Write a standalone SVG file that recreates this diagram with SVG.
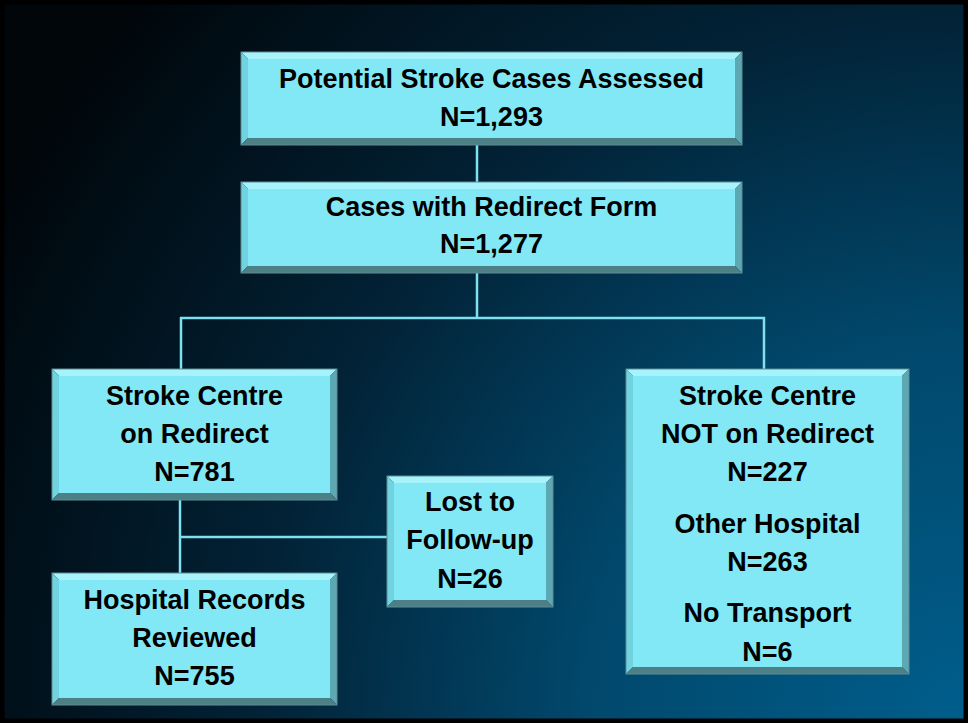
<svg xmlns="http://www.w3.org/2000/svg" width="968" height="723" viewBox="0 0 968 723">
<defs>
<radialGradient id="bg" gradientUnits="userSpaceOnUse" cx="968" cy="723" r="1100">
<stop offset="0" stop-color="#005e8c"/>
<stop offset="0.35" stop-color="#01486c"/>
<stop offset="0.65" stop-color="#022236"/>
<stop offset="1" stop-color="#00060a"/>
</radialGradient>
<style>
.bt{fill:#a6f3fb}.bl{fill:#72d3e0}.br{fill:#5ca8b3}.bb{fill:#4d7f87}
.face{fill:#82e8f6}.ol{fill:none;stroke:#5f8c93;stroke-width:1}
.t{font-family:"Liberation Sans",Arial,sans-serif;font-weight:bold;font-size:27px;fill:#000;text-anchor:middle}
.c{stroke:#7fe0ee;stroke-width:2.5;fill:none}
</style>
</defs>
<rect x="0" y="0" width="968" height="723" fill="url(#bg)"/>
<rect x="2" y="2" width="964" height="719" fill="none" stroke="#000" stroke-width="5"/>
<g id="connectors">
<line class="c" x1="477" y1="145" x2="477" y2="182"/>
<line class="c" x1="477" y1="273" x2="477" y2="318"/>
<line class="c" x1="180" y1="318" x2="765" y2="318"/>
<line class="c" x1="181" y1="317" x2="181" y2="369"/>
<line class="c" x1="764" y1="317" x2="764" y2="369"/>
<line class="c" x1="180" y1="500" x2="180" y2="573"/>
<line class="c" x1="180" y1="537" x2="387" y2="537"/>
</g>
<g id="n1">
<polygon class="bt" points="241,52 742,52 735,59 248,59"/>
<polygon class="bl" points="241,52 248,59 248,138 241,145"/>
<polygon class="br" points="742,52 742,145 735,138 735,59"/>
<polygon class="bb" points="241,145 248,138 735,138 742,145"/>
<rect class="face" x="248" y="59" width="487" height="79"/>
<rect class="ol" x="241" y="52" width="501" height="93"/>
<text class="t" x="491.5" y="88">Potential Stroke Cases Assessed</text>
<text class="t" x="491.5" y="126">N=1,293</text>
</g>
<g id="n2">
<polygon class="bt" points="241,182 742,182 735,189 248,189"/>
<polygon class="bl" points="241,182 248,189 248,266 241,273"/>
<polygon class="br" points="742,182 742,273 735,266 735,189"/>
<polygon class="bb" points="241,273 248,266 735,266 742,273"/>
<rect class="face" x="248" y="189" width="487" height="77"/>
<rect class="ol" x="241" y="182" width="501" height="91"/>
<text class="t" x="491.5" y="216">Cases with Redirect Form</text>
<text class="t" x="491.5" y="253">N=1,277</text>
</g>
<g id="n3">
<polygon class="bt" points="52,369 337,369 330,376 59,376"/>
<polygon class="bl" points="52,369 59,376 59,493 52,500"/>
<polygon class="br" points="337,369 337,500 330,493 330,376"/>
<polygon class="bb" points="52,500 59,493 330,493 337,500"/>
<rect class="face" x="59" y="376" width="271" height="117"/>
<rect class="ol" x="52" y="369" width="285" height="131"/>
<text class="t" x="194.5" y="405">Stroke Centre</text>
<text class="t" x="194.5" y="443">on Redirect</text>
<text class="t" x="194.5" y="481">N=781</text>
</g>
<g id="n4">
<polygon class="bt" points="52,573 337,573 330,580 59,580"/>
<polygon class="bl" points="52,573 59,580 59,698 52,705"/>
<polygon class="br" points="337,573 337,705 330,698 330,580"/>
<polygon class="bb" points="52,705 59,698 330,698 337,705"/>
<rect class="face" x="59" y="580" width="271" height="118"/>
<rect class="ol" x="52" y="573" width="285" height="132"/>
<text class="t" x="194.5" y="609">Hospital Records</text>
<text class="t" x="194.5" y="647">Reviewed</text>
<text class="t" x="194.5" y="685">N=755</text>
</g>
<g id="n5">
<polygon class="bt" points="387,476 553,476 546,483 394,483"/>
<polygon class="bl" points="387,476 394,483 394,600 387,607"/>
<polygon class="br" points="553,476 553,607 546,600 546,483"/>
<polygon class="bb" points="387,607 394,600 546,600 553,607"/>
<rect class="face" x="394" y="483" width="152" height="117"/>
<rect class="ol" x="387" y="476" width="166" height="131"/>
<text class="t" x="470" y="511">Lost to</text>
<text class="t" x="470" y="549">Follow-up</text>
<text class="t" x="470" y="588">N=26</text>
</g>
<g id="n6">
<polygon class="bt" points="626,369 909,369 902,376 633,376"/>
<polygon class="bl" points="626,369 633,376 633,667 626,674"/>
<polygon class="br" points="909,369 909,674 902,667 902,376"/>
<polygon class="bb" points="626,674 633,667 902,667 909,674"/>
<rect class="face" x="633" y="376" width="269" height="291"/>
<rect class="ol" x="626" y="369" width="283" height="305"/>
<text class="t" x="767.5" y="405">Stroke Centre</text>
<text class="t" x="767.5" y="443">NOT on Redirect</text>
<text class="t" x="767.5" y="481">N=227</text>
<text class="t" x="767.5" y="533">Other Hospital</text>
<text class="t" x="767.5" y="571">N=263</text>
<text class="t" x="767.5" y="622">No Transport</text>
<text class="t" x="767.5" y="661">N=6</text>
</g>
</svg>
